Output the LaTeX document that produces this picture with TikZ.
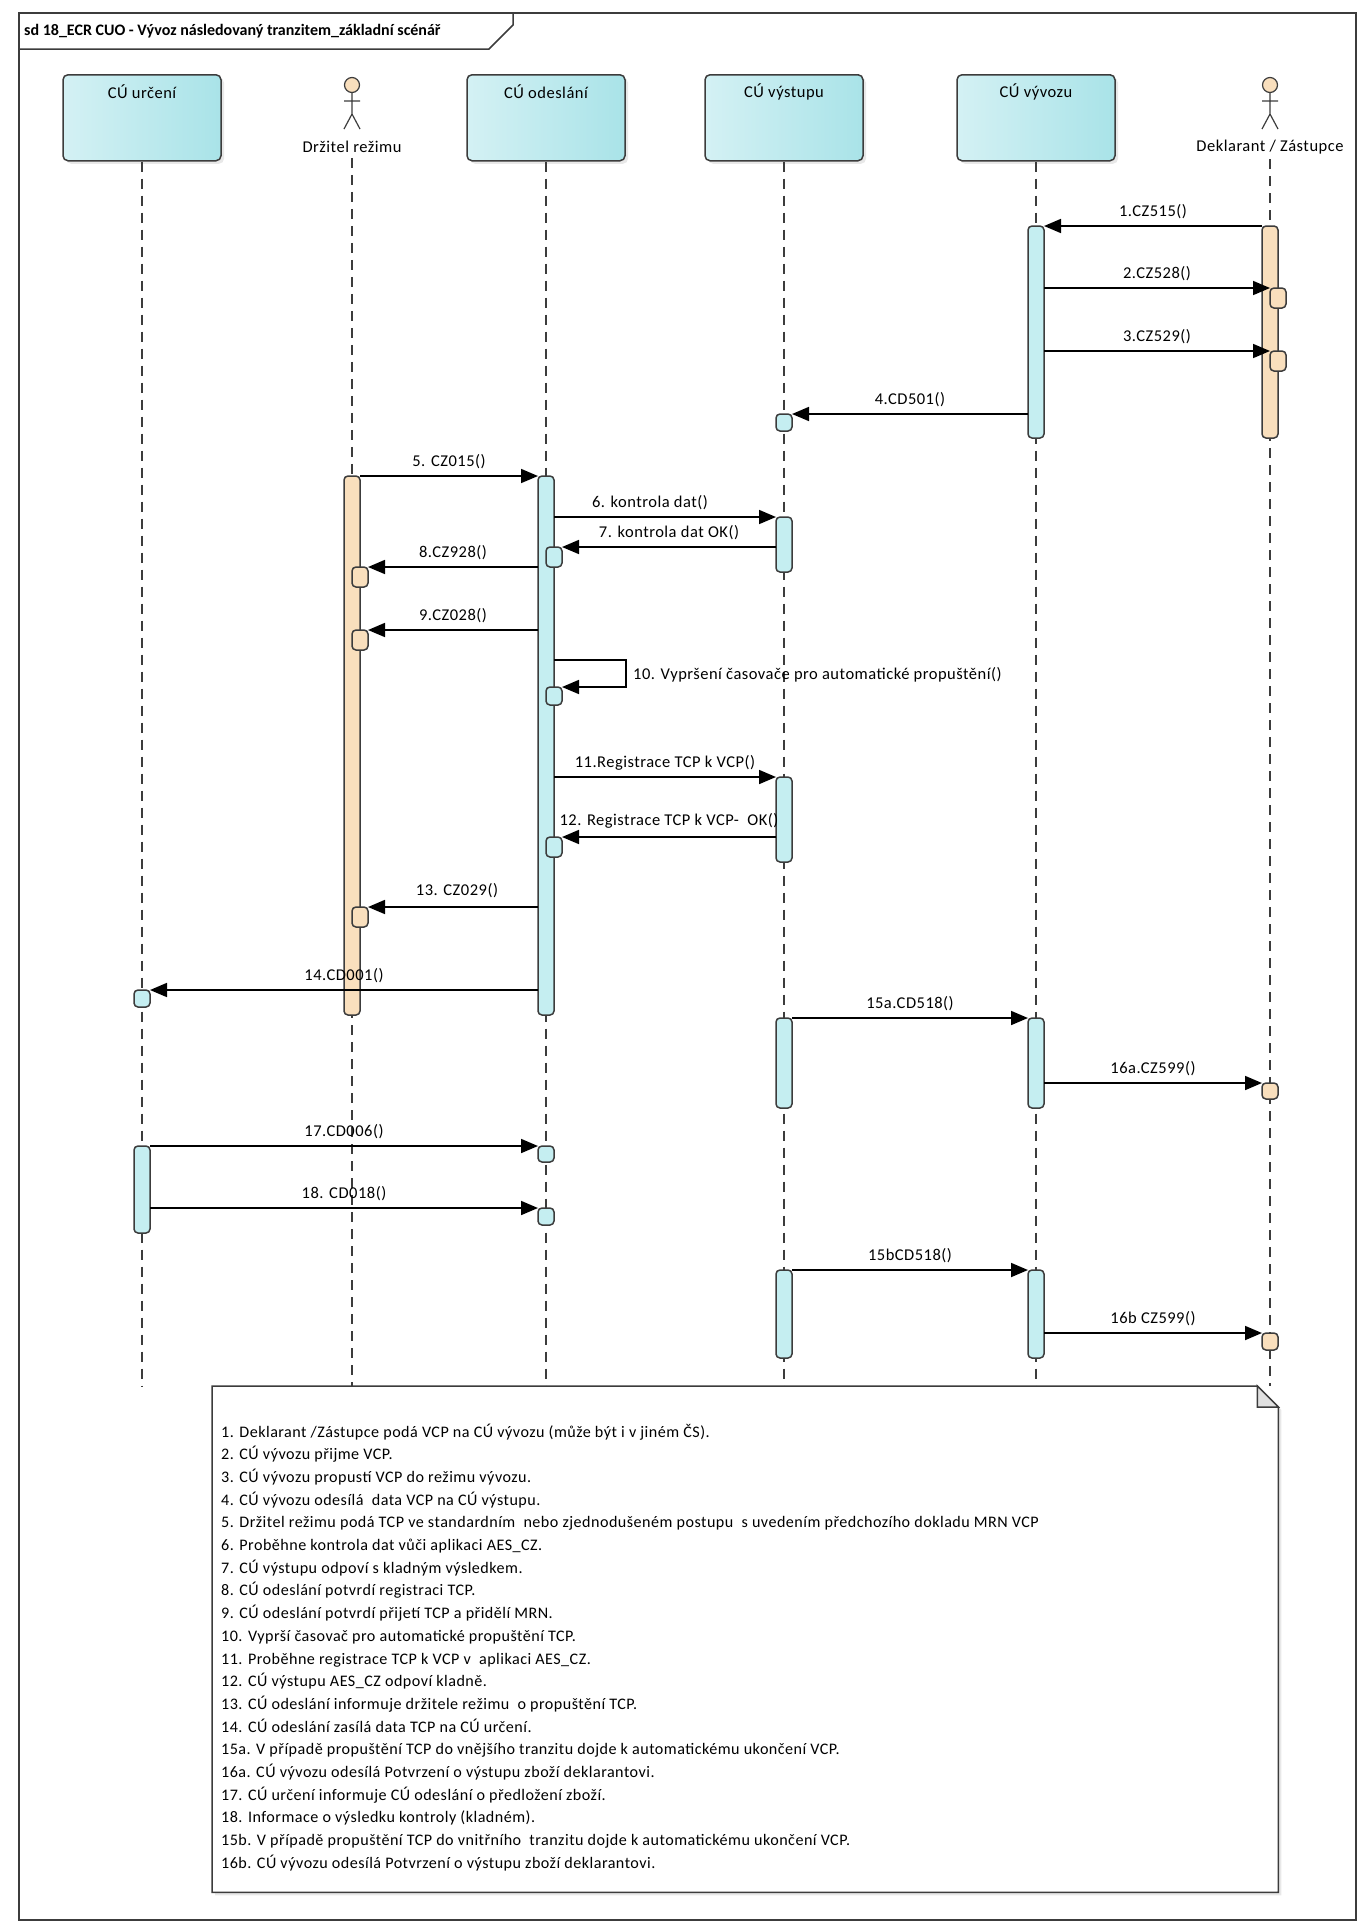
\documentclass[tikz,border=0pt]{standalone}
\usepackage{fontspec}
\setmainfont{Carlito}
\newfontfamily\spacedfam[LetterSpace=3]{Carlito}
\usetikzlibrary{arrows.meta,shadows}
\definecolor{boxL}{HTML}{D4F1F4}
\definecolor{boxR}{HTML}{A9E3E8}
\definecolor{actC}{HTML}{C5EEF1}
\definecolor{actT}{HTML}{F9DFBD}
\definecolor{edge}{HTML}{3C3C3C}
\newcommand\msgfont{\spacedfam\fontsize{16.5pt}{19pt}\selectfont}
\newcommand\notefont{\spacedfam\fontsize{16.1pt}{20pt}\selectfont}
\begin{document}
\begin{tikzpicture}[x=1pt,y=-1pt,
 lbox/.style={draw=edge, line width=1.5pt, rounded corners=5pt, left color=boxL, right color=boxR, minimum width=158pt, minimum height=86pt, anchor=north, inner sep=0pt, drop shadow={shadow xshift=3pt, shadow yshift=-3pt, fill=black!18}},
 lname/.style={font=\msgfont, inner sep=0pt},
 lifeline/.style={draw=edge, line width=1.2pt, dash pattern=on 10pt off 7pt},
 act/.style={draw=edge, line width=1.5pt, rounded corners=4pt, minimum width=16pt, anchor=north, inner sep=0pt, outer sep=0pt},
 actc/.style={act, fill=actC},
 actt/.style={act, fill=actT},
 msg/.style={draw=black, line width=1.7pt, -{Triangle[length=17pt,width=14pt]}},
 mlab/.style={font=\msgfont, inner sep=0pt, anchor=center, midway, yshift=14pt},
 notetxt/.style={font=\notefont, anchor=base west, inner sep=0pt},
 actor/.style={circle, draw=edge, line width=1.2pt, fill=actT, minimum size=15pt, inner sep=0pt},
 stick/.style={draw=edge, line width=1.2pt}
]
\useasboundingbox (0,0) rectangle (1358,1923);
% frame
\draw[line width=1.5pt, draw=edge] (19,13) rectangle (1356,1920);
\draw[line width=1.5pt, draw=edge] (513,13) -- (513,25) -- (489,49) -- (19,49);
\node[anchor=west, inner sep=0pt, font=\bfseries\fontsize{16pt}{19pt}\selectfont] (title) at (24,31) {sd 18\_ECR CUO - Vývoz následovaný tranzitem\_základní scénář};

% lifeline heads
\node[lbox] (hU) at (142,74) {};
\node[lname] (tU) at (142,92) {CÚ určení};
\node[lbox] (hO) at (546,74) {};
\node[lname] (tO) at (546,92) {CÚ odeslání};
\node[lbox] (hV) at (784,74) {};
\node[lname] (tV) at (784,92) {CÚ výstupu};
\node[lbox] (hX) at (1036,74) {};
\node[lname] (tX) at (1036,92) {CÚ vývozu};

% actors
\node[actor] (aD) at (352,85) {};
\draw[stick] (aD.south) -- (352,114) (344,101) -- (360,101) (344,129) -- (352,114) -- (360,129);
\node[lname] (lD) at (352,147) {Držitel režimu};
\node[actor] (aK) at (1270,85) {};
\draw[stick] (aK.south) -- (1270,114) (1262,101) -- (1278,101) (1262,129) -- (1270,114) -- (1278,129);
\node[lname] (lK) at (1270,147) {Deklarant / Zástupce};

% lifelines
\coordinate (eU) at (142,1386);
\coordinate (eD) at (352,1386);
\coordinate (eO) at (546,1386);
\coordinate (eV) at (784,1386);
\coordinate (eX) at (1036,1386);
\coordinate (eK) at (1270,1386);
\draw[lifeline] (hU.south) -- (eU);
\draw[lifeline] (lD.south) ++(0,5) -- (eD);
\draw[lifeline] (hO.south) -- (eO);
\draw[lifeline] (hV.south) -- (eV);
\draw[lifeline] (hX.south) -- (eX);
\draw[lifeline] (lK.south) ++(0,5) -- (eK);

% activations
\node[actc, minimum height=212pt] (xA1) at (1036,226) {};
\node[actt, minimum height=212pt] (kA1) at (1270,226) {};
\node[actt, minimum height=20pt] (kN1) at (1278,288) {};
\node[actt, minimum height=20pt] (kN2) at (1278,351) {};
\node[actc, minimum height=17pt] (vS1) at (784,414) {};
\node[actt, minimum height=539pt] (dA) at (352,476) {};
\node[actc, minimum height=539pt] (oA) at (546,476) {};
\node[actc, minimum height=55pt] (vA2) at (784,517) {};
\node[actc, minimum height=20pt] (oN1) at (554,547) {};
\node[actt, minimum height=20pt] (dN1) at (360,567) {};
\node[actt, minimum height=20pt] (dN2) at (360,630) {};
\node[actc, minimum height=18pt] (oN2) at (554,687) {};
\node[actc, minimum height=85pt] (vA3) at (784,777) {};
\node[actc, minimum height=20pt] (oN3) at (554,837) {};
\node[actt, minimum height=20pt] (dN3) at (360,907) {};
\node[actc, minimum height=17pt] (uS1) at (142,990) {};
\node[actc, minimum height=90pt] (vA4) at (784,1018) {};
\node[actc, minimum height=90pt] (xA2) at (1036,1018) {};
\node[actt, minimum height=16pt] (kS1) at (1270,1083) {};
\node[actc, minimum height=87pt] (uA) at (142,1146) {};
\node[actc, minimum height=16pt] (oS1) at (546,1146) {};
\node[actc, minimum height=17pt] (oS2) at (546,1208) {};
\node[actc, minimum height=88pt] (vA5) at (784,1270) {};
\node[actc, minimum height=88pt] (xA3) at (1036,1270) {};
\node[actt, minimum height=17pt] (kS2) at (1270,1333) {};

% messages
\draw[msg] (kA1.north west) -- (xA1.north east) node[mlab] (m1) {1.CZ515()};
\draw[msg] (xA1.east |- kN1.north west) -- (kN1.north west) node[mlab] (m2) {2.CZ528()};
\draw[msg] (xA1.east |- kN2.north west) -- (kN2.north west) node[mlab] (m3) {3.CZ529()};
\draw[msg] (xA1.west |- vS1.north east) -- (vS1.north east) node[mlab] (m4) {4.CD501()};
\draw[msg] (dA.north east) -- (oA.north west) node[mlab] (m5) {5. CZ015()};
\draw[msg] (oA.east |- vA2.north west) -- (vA2.north west) node[mlab, xshift=-15pt] (m6) {6. kontrola dat()};
\draw[msg] (vA2.west |- oN1.north east) -- (oN1.north east) node[mlab] (m7) {7. kontrola dat OK()};
\draw[msg] (oA.west |- dN1.north east) -- (dN1.north east) node[mlab] (m8) {8.CZ928()};
\draw[msg] (oA.west |- dN2.north east) -- (dN2.north east) node[mlab] (m9) {9.CZ028()};
\coordinate (s10a) at (626,660);
\coordinate (s10b) at (626,687);
\draw[msg] (oA.east |- s10a) -- (s10a) -- (s10b) -- (oN2.north east);
\node[font=\msgfont, inner sep=0pt, anchor=west] (m10) at (633,675) {10. Vypršení časovače pro automatické propuštění()};
\draw[msg] (oA.east |- vA3.north west) -- (vA3.north west) node[mlab] (m11) {11.Registrace TCP k VCP()};
\draw[msg] (vA3.west |- oN3.north east) -- (oN3.north east) node[mlab, yshift=2pt] (m12) {12. Registrace TCP k VCP-\ \ OK()};
\draw[msg] (oA.west |- dN3.north east) -- (dN3.north east) node[mlab, xshift=4pt, yshift=2pt] (m13) {13. CZ029()};
\draw[msg] (oA.west |- uS1.north east) -- (uS1.north east) node[mlab] (m14) {14.CD001()};
\draw[msg] (vA4.north east) -- (xA2.north west) node[mlab] (m15a) {15a.CD518()};
\draw[msg] (xA2.east |- kS1.north west) -- (kS1.north west) node[mlab] (m16a) {16a.CZ599()};
\draw[msg] (uA.north east) -- (oS1.north west) node[mlab] (m17) {17.CD006()};
\draw[msg] (uA.east |- oS2.north west) -- (oS2.north west) node[mlab] (m18) {18. CD018()};
\draw[msg] (vA5.north east) -- (xA3.north west) node[mlab] (m15b) {15bCD518()};
\draw[msg] (xA3.east |- kS2.north west) -- (kS2.north west) node[mlab] (m16b) {16b CZ599()};

% note
\node[anchor=north west, minimum width=1066pt, minimum height=506pt, inner sep=0pt] (note) at (212,1386) {};
\draw[line width=1.5pt, draw=edge, fill=white, drop shadow={shadow xshift=3pt, shadow yshift=-3pt, fill=black!18}] (note.north west) -- ([xshift=-21pt]note.north east) -- ([yshift=-21pt]note.north east) -- (note.south east) -- (note.south west) -- cycle;
\draw[line width=1.5pt, draw=edge, fill=black!12] ([xshift=-21pt]note.north east) -- ([xshift=-21pt,yshift=-21pt]note.north east) -- ([yshift=-21pt]note.north east) -- cycle;
\foreach \t [count=\i] in {
 {1. Deklarant /Zástupce podá VCP na CÚ vývozu (může být i v jiném ČS).},
 {2. CÚ vývozu přijme VCP.},
 {3. CÚ vývozu propustí VCP do režimu vývozu.},
 {4. CÚ vývozu odesílá\ \ data VCP na CÚ výstupu.},
 {5. Držitel režimu podá TCP ve standardním\ \ nebo zjednodušeném postupu\ \ s uvedením předchozího dokladu MRN VCP},
 {6. Proběhne kontrola dat vůči aplikaci AES\_CZ.},
 {7. CÚ výstupu odpoví s kladným výsledkem.},
 {8. CÚ odeslání potvrdí registraci TCP.},
 {9. CÚ odeslání potvrdí přijetí TCP a přidělí MRN.},
 {10. Vyprší časovač pro automatické propuštění TCP.},
 {11. Proběhne registrace TCP k VCP v\ \ aplikaci AES\_CZ.},
 {12. CÚ výstupu AES\_CZ odpoví kladně.},
 {13. CÚ odeslání informuje držitele režimu\ \ o propuštění TCP.},
 {14. CÚ odeslání zasílá data TCP na CÚ určení.},
 {15a. V případě propuštění TCP do vnějšího tranzitu dojde k automatickému ukončení VCP.},
 {16a. CÚ vývozu odesílá Potvrzení o výstupu zboží deklarantovi.},
 {17. CÚ určení informuje CÚ odeslání o předložení zboží.},
 {18. Informace o výsledku kontroly (kladném).},
 {15b. V případě propuštění TCP do vnitřního\ \ tranzitu dojde k automatickému ukončení VCP.},
 {16b. CÚ vývozu odesílá Potvrzení o výstupu zboží deklarantovi.}}
 { \node[notetxt] (nt\i) at (221,{1437+22.7*(\i-1)}) {\t}; }
\end{tikzpicture}
\end{document}
